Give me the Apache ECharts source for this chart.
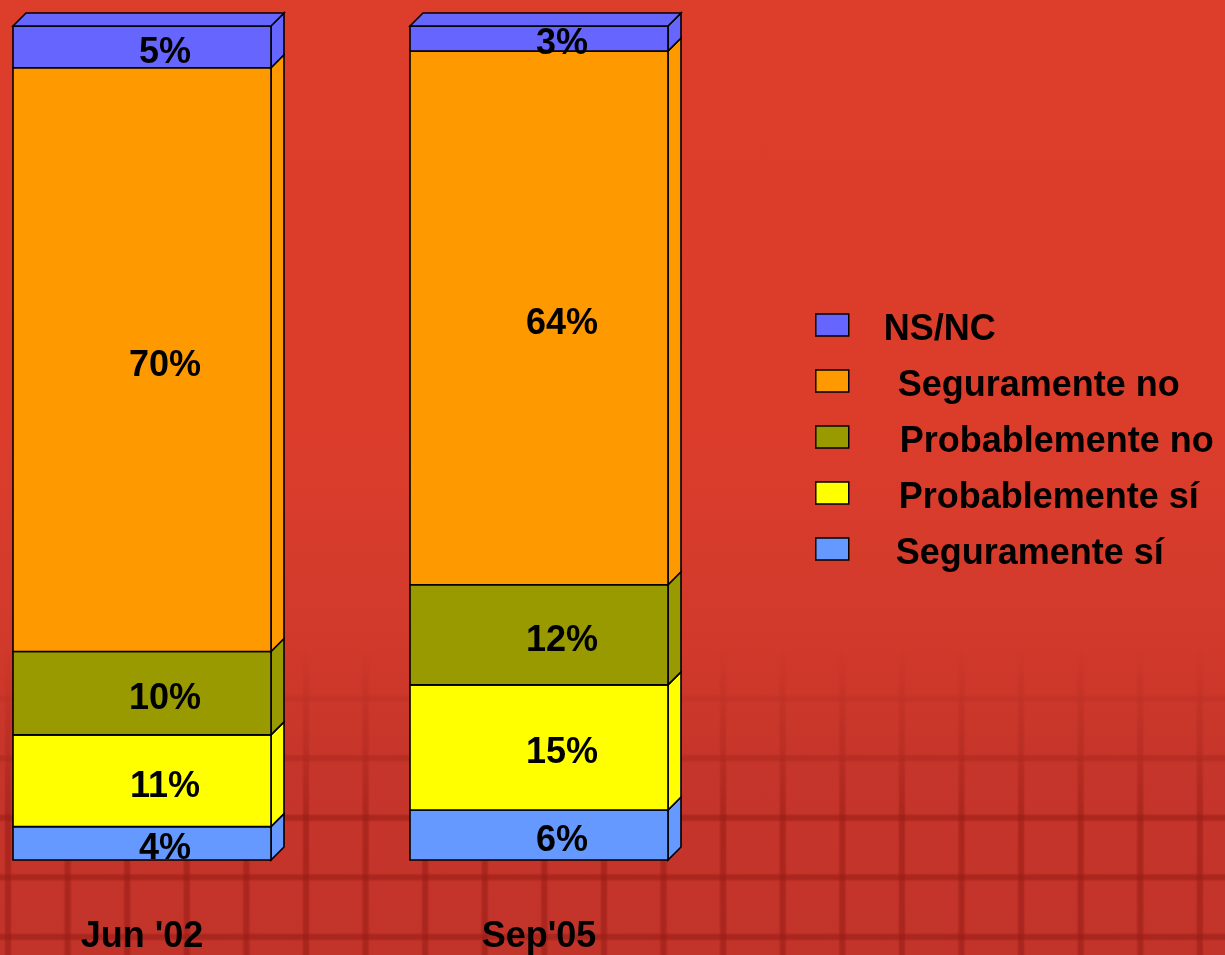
<!DOCTYPE html>
<html>
<head>
<meta charset="utf-8">
<script src="https://cdn.jsdelivr.net/npm/echarts@6/dist/echarts.min.js"></script>
<style>
html,body{margin:0;padding:0;width:1225px;height:955px;overflow:hidden;}
#bg{position:absolute;left:0;top:0;width:1225px;height:955px;
 background:linear-gradient(180deg,#DD3E2B 0%,#DC3D2B 45%,#D23A2B 65%,#C6352A 80%,#C2332A 100%);}
#grid{position:absolute;left:0;top:0;width:1225px;height:955px;
 background-image:linear-gradient(to right,rgba(150,28,20,0) 0,rgba(150,28,20,0.55) 2px,rgba(150,28,20,0.55) 6px,rgba(150,28,20,0) 8px,transparent 8px),
  linear-gradient(to bottom,rgba(150,28,20,0) 0,rgba(150,28,20,0.55) 2px,rgba(150,28,20,0.55) 6px,rgba(150,28,20,0) 8px,transparent 8px);
 background-size:59.6px 59.6px;background-position:4px 39px;
 -webkit-mask-image:linear-gradient(to bottom,transparent 0%,transparent 68%,rgba(0,0,0,0.5) 79%,black 86%,black 100%);
 mask-image:linear-gradient(to bottom,transparent 0%,transparent 68%,rgba(0,0,0,0.5) 79%,black 86%,black 100%);}
#main{position:absolute;left:0;top:0;width:1225px;height:955px;}
</style>
</head>
<body>
<div id="bg"></div>
<div id="grid"></div>
<div id="main"></div>
<script>
// ---- data ----
const categories = ["Jun '02", "Sep'05"];
const seriesNames = ["Seguramente sí", "Probablemente sí", "Probablemente no", "Seguramente no", "NS/NC"];
const seguramenteSi   = [4, 6];
const probablementeSi = [11, 15];
const probablementeNo = [10, 12];
const seguramenteNo   = [70, 64];
const nsnc            = [5, 3];
const legendOrder = ["NS/NC", "Seguramente no", "Probablemente no", "Probablemente sí", "Seguramente sí"];

const seriesValues = [seguramenteSi, probablementeSi, probablementeNo, seguramenteNo, nsnc];
const colors = ["#6699FF", "#FFFF00", "#999900", "#FF9900", "#6666FF"];

const BAR_W = 258, DEPTH = 13;
const FONT = '"Liberation Sans", Arial, sans-serif';

function makeRender(isTop) {
  return function (params, api) {
    const xi = api.value(0), base = api.value(1), val = api.value(2);
    const pTop = api.coord([xi, base + val]);
    const pBot = api.coord([xi, base]);
    const x0 = pTop[0] - BAR_W / 2, x1 = pTop[0] + BAR_W / 2;
    const y0 = pTop[1], y1 = pBot[1];
    const color = api.visual('color');
    const st = { fill: color, stroke: '#000', lineWidth: 1.6 };
    const children = [
      { type: 'polygon', shape: { points: [[x1, y0], [x1 + DEPTH, y0 - DEPTH], [x1 + DEPTH, y1 - DEPTH], [x1, y1]] }, style: st },
      { type: 'rect', shape: { x: x0, y: y0, width: BAR_W, height: y1 - y0 }, style: st }
    ];
    if (isTop) {
      children.push({ type: 'polygon', shape: { points: [[x0, y0], [x0 + DEPTH, y0 - DEPTH], [x1 + DEPTH, y0 - DEPTH], [x1, y0]] }, style: st });
    }
    children.push({
      type: 'text', z2: 100,
      style: { text: val + '%', x: pTop[0] + 23, y: (y0 + y1) / 2 + 6, align: 'center', verticalAlign: 'middle',
        font: 'bold 36px ' + FONT, fill: '#000' }
    });
    return { type: 'group', children: children };
  };
}

const series = seriesNames.map(function (name, si) {
  const data = categories.map(function (c, ci) {
    let base = 0;
    for (let k = 0; k < si; k++) base += seriesValues[k][ci];
    return [ci, base, seriesValues[si][ci]];
  });
  return {
    type: 'custom', name: name, renderItem: makeRender(si === seriesNames.length - 1),
    itemStyle: { color: colors[si] }, data: data, encode: { x: 0, y: [1, 2] }
  };
});

const textPads = [30, 44, 46, 45, 42];
const rich = {};
legendOrder.forEach(function (n, i) {
  rich['t' + i] = { color: '#000', fontSize: 36, fontWeight: 'bold', fontFamily: FONT, lineHeight: 36,
    padding: [10, 0, 0, textPads[i]] };
});

const chart = echarts.init(document.getElementById('main'));
chart.setOption({
  backgroundColor: 'transparent',
  animation: false,
  grid: { left: 142, width: 397, top: 26, bottom: 94 },
  xAxis: {
    type: 'category', data: categories, boundaryGap: false,
    axisLine: { show: false }, axisTick: { show: false }, splitLine: { show: false },
    axisLabel: { margin: 59, color: '#000', fontSize: 36, fontWeight: 'bold', fontFamily: FONT }
  },
  yAxis: { type: 'value', min: 0, max: 100, show: false, splitLine: { show: false } },
  legend: {
    orient: 'vertical', left: 815, top: 302, padding: 0,
    itemWidth: 33, itemHeight: 22, itemGap: 10, icon: 'rect',
    itemStyle: { borderColor: '#000', borderWidth: 1.5 },
    formatter: function (name) { return '{t' + legendOrder.indexOf(name) + '|' + name + '}'; },
    textStyle: { color: '#000', fontSize: 36, fontWeight: 'bold', fontFamily: FONT, rich: rich },
    data: legendOrder
  },
  series: series
});
</script>
</body>
</html>
